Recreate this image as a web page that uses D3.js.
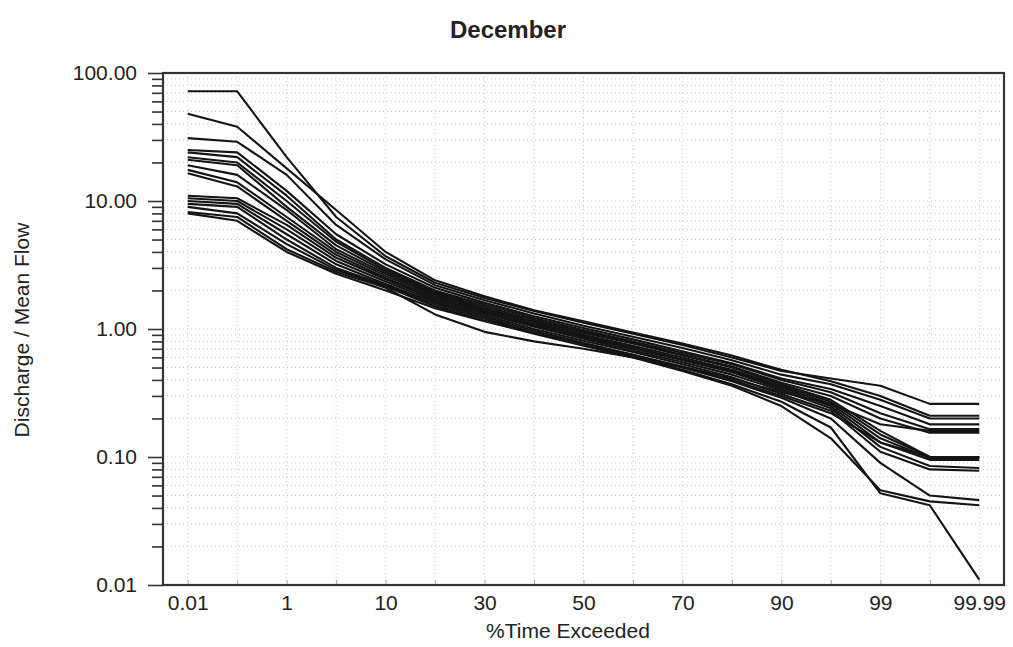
<!DOCTYPE html>
<html>
<head>
<meta charset="utf-8">
<script src="https://cdn.jsdelivr.net/npm/d3@7"></script>
<style>
  html, body { margin: 0; padding: 0; background: #fff; }
  svg { display: block; font-family: Arial, "Liberation Sans", sans-serif; }
</style>
</head>
<body>
<svg id="chart" width="1013" height="647"></svg>
<script>
// Exceedance probabilities (percent of time exceeded), evenly spaced categories
const exceedance = ["0.01","0.1","1","5","10","20","30","40","50","60","70","80","90","95","99","99.9","99.99"];
const xTickLabels = ["0.01","1","10","30","50","70","90","99","99.99"];
const yTickValues = [0.01, 0.1, 1, 10, 100];

// Discharge / mean flow, one duration curve per record
const c01 = [72, 72, 22, 7.5, 3.7, 2.3, 1.75, 1.38, 1.12, 0.92, 0.75, 0.6, 0.47, 0.41, 0.36, 0.26, 0.26];
const c02 = [48, 38, 18, 8.5, 4.0, 2.4, 1.8, 1.4, 1.15, 0.94, 0.77, 0.62, 0.48, 0.39, 0.30, 0.21, 0.21];
const c03 = [31, 29, 16, 6.5, 3.5, 2.2, 1.68, 1.32, 1.06, 0.87, 0.71, 0.57, 0.44, 0.37, 0.28, 0.20, 0.20];
const c04 = [25, 24, 12, 5.5, 3.2, 2.1, 1.6, 1.26, 1.02, 0.83, 0.67, 0.54, 0.41, 0.34, 0.25, 0.18, 0.18];
const c05 = [24, 22, 11, 5.0, 3.0, 2.0, 1.55, 1.22, 0.98, 0.8, 0.65, 0.53, 0.4, 0.32, 0.22, 0.165, 0.165];
const c06 = [22, 20, 10, 4.8, 2.9, 1.95, 1.5, 1.18, 0.95, 0.78, 0.63, 0.51, 0.38, 0.30, 0.20, 0.155, 0.155];
const c07 = [21, 19, 9, 4.5, 2.8, 1.9, 1.45, 1.15, 0.93, 0.77, 0.62, 0.5, 0.37, 0.28, 0.16, 0.10, 0.10];
const c08 = [19, 16, 8.5, 4.2, 2.7, 1.85, 1.42, 1.12, 0.9, 0.74, 0.6, 0.48, 0.36, 0.27, 0.15, 0.10, 0.10];
const c09 = [17.5, 14, 7.5, 4.0, 2.6, 1.8, 1.38, 1.09, 0.88, 0.72, 0.58, 0.47, 0.35, 0.26, 0.14, 0.098, 0.098];
const c10 = [16.5, 13, 7.0, 3.8, 2.5, 1.75, 1.35, 1.06, 0.86, 0.7, 0.57, 0.46, 0.34, 0.25, 0.13, 0.095, 0.095];
const c11 = [11, 10.5, 6.5, 3.6, 2.45, 1.7, 1.32, 1.04, 0.84, 0.68, 0.55, 0.44, 0.33, 0.24, 0.12, 0.085, 0.082];
const c12 = [10.5, 10, 6, 3.4, 2.35, 1.65, 1.28, 1.0, 0.81, 0.66, 0.53, 0.42, 0.31, 0.23, 0.11, 0.08, 0.078];
const c13 = [10, 9.5, 5.5, 3.2, 2.25, 1.6, 1.24, 0.97, 0.78, 0.63, 0.5, 0.39, 0.29, 0.2, 0.09, 0.05, 0.046];
const c14 = [9.5, 9, 5, 3.0, 2.2, 1.55, 1.2, 0.94, 0.76, 0.61, 0.48, 0.37, 0.27, 0.17, 0.052, 0.042, 0.011];
const c15 = [9, 8, 4.6, 2.9, 2.15, 1.5, 1.16, 0.92, 0.74, 0.6, 0.47, 0.36, 0.25, 0.14, 0.055, 0.045, 0.042];
const c16 = [8.2, 7.5, 4.2, 2.8, 2.1, 1.3, 0.95, 0.8, 0.7, 0.6, 0.5, 0.4, 0.3, 0.22, 0.13, 0.1, 0.1];
const c17 = [8, 7, 4.0, 2.7, 2.0, 1.45, 1.15, 0.93, 0.76, 0.63, 0.51, 0.41, 0.32, 0.26, 0.18, 0.16, 0.16];
const curves = [c01, c02, c03, c04, c05, c06, c07, c08, c09, c10, c11, c12, c13, c14, c15, c16, c17];

const svg = d3.select("#chart");
const plot = { left: 163, right: 1004, top: 73, bottom: 585 };

const x = d3.scalePoint()
  .domain(exceedance)
  .range([plot.left, plot.right])
  .padding(0.5);

const y = d3.scaleLog()
  .domain([0.01, 100])
  .range([plot.bottom, plot.top]);

const fontSize = 21;
const isMajor = d => yTickValues.some(v => Math.abs(v - d) / v < 1e-6);

// Faint dotted grid
const grid = svg.append("g").attr("stroke", "#c8c8c8").attr("stroke-width", 1)
  .attr("stroke-dasharray", "1,3").attr("fill", "none");
grid.selectAll("line.v").data(exceedance).join("line")
  .attr("x1", d => x(d)).attr("x2", d => x(d))
  .attr("y1", plot.top).attr("y2", plot.bottom);
const minorVals = [];
[0.01, 0.1, 1, 10].forEach(dec => { for (let k = 1; k < 10; k++) minorVals.push(dec * k); });
grid.selectAll("line.h").data(minorVals).join("line")
  .attr("x1", plot.left).attr("x2", plot.right)
  .attr("y1", d => y(d)).attr("y2", d => y(d));

// Y axis with log ticks on the outside
const yAxis = d3.axisLeft(y)
  .tickValues(minorVals.concat([100]))
  .tickSize(11)
  .tickFormat(d => isMajor(d) ? d3.format(".2f")(d) : "");
const gy = svg.append("g").attr("transform", `translate(${plot.left},0)`).call(yAxis);
gy.select(".domain").remove();
gy.selectAll(".tick line").attr("stroke", "#333").attr("stroke-width", 1.6)
  .attr("x2", d => isMajor(d) ? -15 : -11);
gy.selectAll(".tick text").attr("x", -26).attr("font-size", fontSize)
  .attr("fill", "#222").attr("font-family", "Arial, 'Liberation Sans', sans-serif");

// X axis: small ticks at each category, labels on every other one
const xAxis = d3.axisBottom(x).tickSize(0)
  .tickFormat(d => xTickLabels.includes(d) ? d : "");
const gx = svg.append("g").attr("transform", `translate(0,${plot.bottom})`).call(xAxis);
gx.select(".domain").remove();
gx.selectAll(".tick text").attr("y", 25).attr("dy", 0).attr("font-size", fontSize)
  .attr("fill", "#222").attr("font-family", "Arial, 'Liberation Sans', sans-serif");
gx.selectAll(".tick line").attr("y2", -5).attr("stroke", "#aaa").attr("stroke-width", 1);

// Duration curves
const line = d3.line()
  .x((d, i) => x(exceedance[i]))
  .y(d => y(d));
svg.append("g").selectAll("path").data(curves).join("path")
  .attr("d", line)
  .attr("fill", "none")
  .attr("stroke", "#141414")
  .attr("stroke-width", 2.1)
  .attr("stroke-linejoin", "round");

// Plot frame
svg.append("rect")
  .attr("x", plot.left).attr("y", plot.top)
  .attr("width", plot.right - plot.left).attr("height", plot.bottom - plot.top)
  .attr("fill", "none").attr("stroke", "#333").attr("stroke-width", 2.2);

// Titles
svg.append("text").attr("x", 508).attr("y", 38).attr("text-anchor", "middle")
  .attr("font-size", 24).attr("font-weight", "bold").attr("fill", "#222").text("December");
svg.append("text").attr("x", 568).attr("y", 638).attr("text-anchor", "middle")
  .attr("font-size", fontSize).attr("fill", "#222").text("%Time Exceeded");
svg.append("text").attr("transform", "translate(29,330) rotate(-90)").attr("text-anchor", "middle")
  .attr("font-size", fontSize).attr("fill", "#222").text("Discharge / Mean Flow");
</script>
</body>
</html>
